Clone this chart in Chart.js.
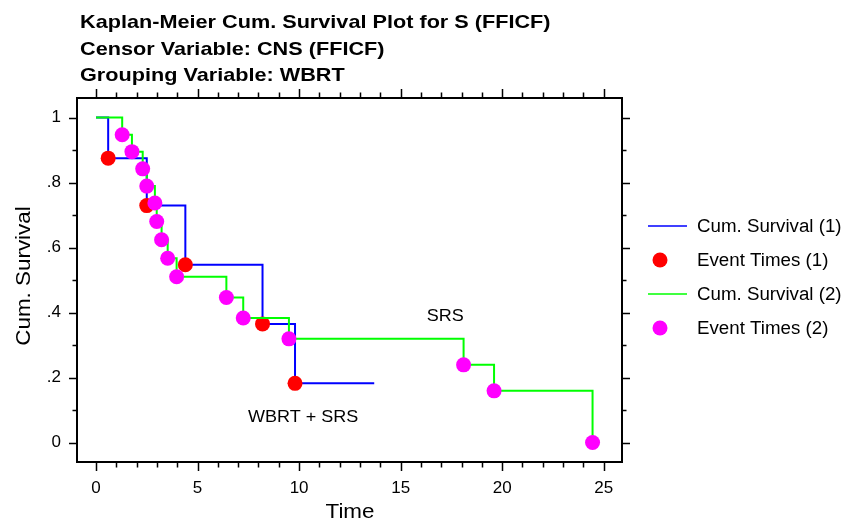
<!DOCTYPE html>
<html><head><meta charset="utf-8">
<script src="https://cdn.jsdelivr.net/npm/chart.js@4.4.1/dist/chart.umd.min.js"></script>
<style>html,body{margin:0;padding:0;background:#fff}#wrap{width:856px;height:521px}</style>
</head><body><div id="wrap"><canvas id="c" width="856" height="521"></canvas></div>
<script>
// ---------- data ----------
const titleLines = ['Kaplan-Meier Cum. Survival Plot for S (FFICF)', 'Censor Variable: CNS (FFICF)', 'Grouping Variable: WBRT'];
const xAxisTitle = 'Time';
const yAxisTitle = 'Cum. Survival';
const xTickValues = [0, 5, 10, 15, 20, 25];
const yTickValues = [0, 0.2, 0.4, 0.6, 0.8, 1];
const yTickLabels = ['0', '.2', '.4', '.6', '.8', '1'];
const seriesNames = ['Cum. Survival (1)', 'Event Times (1)', 'Cum. Survival (2)', 'Event Times (2)'];
const groupLabels = ['WBRT + SRS', 'SRS'];

// group 1 (WBRT + SRS)
const g1EventTimes = [0.6, 2.5, 4.4, 8.2, 9.8];
const g1Survival   = [0.875, 0.729, 0.547, 0.365, 0.182];
const g1LastTime   = 13.7;
// group 2 (SRS)
const g2EventTimes = [1.29, 1.77, 2.3, 2.5, 2.9, 2.99, 3.23, 3.53, 3.97, 6.42, 7.25, 9.5, 18.1, 19.6, 24.45];
const g2Survival   = [0.947, 0.895, 0.842, 0.789, 0.737, 0.680, 0.624, 0.567, 0.510, 0.446, 0.383, 0.319, 0.239, 0.159, 0];
const g2LastTime   = 24.45;

// ---------- helpers ----------
function stepData(times, surv, last) {
  const pts = [{x: 0, y: 1}];
  times.forEach((t, i) => pts.push({x: t, y: surv[i]}));
  if (last > times[times.length - 1]) pts.push({x: last, y: surv[surv.length - 1]});
  return pts;
}
function eventData(times, surv) { return times.map((t, i) => ({x: t, y: surv[i]})); }

const FAM = '"Liberation Sans", Arial, Helvetica, sans-serif';
function sText(ctx, str, x, y, font, align, baseline, sx) {
  ctx.save();
  ctx.font = font; ctx.textBaseline = baseline; ctx.textAlign = 'left'; ctx.fillStyle = '#000';
  const w = ctx.measureText(str).width * sx;
  const x0 = align === 'center' ? x - w / 2 : (align === 'right' ? x - w : x);
  ctx.translate(x0, y); ctx.scale(sx, 1);
  ctx.fillText(str, 0, 0);
  ctx.restore();
}

const annotations = [
  {text: groupLabels[0], x: 10.2, y: 0.078},
  {text: groupLabels[1], x: 17.2, y: 0.388}
];

const decor = {
  id: 'decor',
  afterDraw(chart) {
    const ctx = chart.ctx, a = chart.chartArea, xs = chart.scales.x, ys = chart.scales.y;
    ctx.save();
    // frame
    ctx.strokeStyle = '#000'; ctx.lineWidth = 2;
    ctx.strokeRect(a.left, a.top, a.right - a.left, a.bottom - a.top);
    // x ticks (top & bottom)
    ctx.lineWidth = 1.5;
    for (let v = 0; v <= 25; v++) {
      const px = Math.round(xs.getPixelForValue(v)) + 0.5;
      const len = (v % 5 === 0) ? 9 : 5.5;
      ctx.beginPath();
      ctx.moveTo(px, a.bottom); ctx.lineTo(px, a.bottom + len);
      ctx.moveTo(px, a.top); ctx.lineTo(px, a.top - len);
      ctx.stroke();
    }
    // y ticks (left & right)
    for (let k = 0; k <= 10; k++) {
      const v = k / 10;
      const py = Math.round(ys.getPixelForValue(v)) + 0.5;
      const len = (k % 2 === 0) ? 8 : 4.5;
      ctx.beginPath();
      ctx.moveTo(a.left, py); ctx.lineTo(a.left - len, py);
      ctx.moveTo(a.right, py); ctx.lineTo(a.right + len, py);
      ctx.stroke();
    }
    ctx.restore();

    // title
    const tb = [28, 54.5, 81];
    titleLines.forEach((t, i) => sText(ctx, t, 80, tb[i], 'bold 19px ' + FAM, 'left', 'alphabetic', 1.14));

    // axis titles
    sText(ctx, xAxisTitle, (a.left + a.right) / 2 + 0.5, 518, '20px ' + FAM, 'center', 'alphabetic', 1.12);
    ctx.save();
    ctx.translate(30, 276); ctx.rotate(-Math.PI / 2);
    sText(ctx, yAxisTitle, 0, 0, '20px ' + FAM, 'center', 'alphabetic', 1.12);
    ctx.restore();

    // annotations
    annotations.forEach(n => sText(ctx, n.text, xs.getPixelForValue(n.x), ys.getPixelForValue(n.y), '17px ' + FAM, 'center', 'middle', 1.06));

    // legend
    const rows = [226, 260, 294, 328];
    chart.data.datasets.forEach((ds, i) => {
      const y = rows[i];
      ctx.save();
      if (ds.showLine) {
        ctx.strokeStyle = ds.borderColor; ctx.lineWidth = 1.5;
        ctx.beginPath(); ctx.moveTo(648, y); ctx.lineTo(687, y); ctx.stroke();
      } else {
        ctx.fillStyle = ds.backgroundColor;
        ctx.beginPath(); ctx.arc(660, y, 7.5, 0, Math.PI * 2); ctx.fill();
      }
      ctx.restore();
      sText(ctx, ds.label, 697, y + 1, '18px ' + FAM, 'left', 'middle', 1.04);
    });
  }
};

new Chart(document.getElementById('c'), {
  type: 'scatter',
  data: {
    datasets: [
      {label: seriesNames[0], data: stepData(g1EventTimes, g1Survival, g1LastTime), showLine: true, stepped: 'before',
       borderColor: '#0000ff', backgroundColor: '#0000ff', borderWidth: 2, pointRadius: 0, pointHoverRadius: 0, order: 4},
      {label: seriesNames[1], data: eventData(g1EventTimes, g1Survival), showLine: false,
       backgroundColor: '#ff0000', borderColor: '#ff0000', borderWidth: 0, pointRadius: 7.5, pointHoverRadius: 7.5, order: 3, clip: false},
      {label: seriesNames[2], data: stepData(g2EventTimes, g2Survival, g2LastTime), showLine: true, stepped: 'before',
       borderColor: '#00ff00', backgroundColor: '#00ff00', borderWidth: 2, pointRadius: 0, pointHoverRadius: 0, order: 2},
      {label: seriesNames[3], data: eventData(g2EventTimes, g2Survival), showLine: false,
       backgroundColor: '#ff00ff', borderColor: '#ff00ff', borderWidth: 0, pointRadius: 7.5, pointHoverRadius: 7.5, order: 1, clip: false}
    ]
  },
  options: {
    responsive: false, animation: false, devicePixelRatio: 1, events: [],
    layout: {padding: {left: 0, top: 98, right: 234, bottom: 0}},
    plugins: {legend: {display: false}, tooltip: {enabled: false}, title: {display: false}},
    scales: {
      x: {
        type: 'linear', min: -0.935, max: 25.9,
        afterBuildTicks: s => { s.ticks = xTickValues.map(v => ({value: v})); },
        afterFit: s => { s.height = 59; },
        grid: {display: false, drawTicks: false}, border: {display: false},
        ticks: {font: {family: FAM, size: 17}, color: '#000', padding: 16, maxRotation: 0, autoSkip: false,
                callback: v => String(v)}
      },
      y: {
        type: 'linear', min: -0.06, max: 1.06,
        afterBuildTicks: s => { s.ticks = yTickValues.map(v => ({value: v})); },
        afterFit: s => { s.width = 77; },
        grid: {display: false, drawTicks: false}, border: {display: false},
        ticks: {font: {family: FAM, size: 17}, color: '#000', padding: 16, autoSkip: false,
                callback: (v, i) => yTickLabels[i]}
      }
    }
  },
  plugins: [decor]
});
</script></body></html>
